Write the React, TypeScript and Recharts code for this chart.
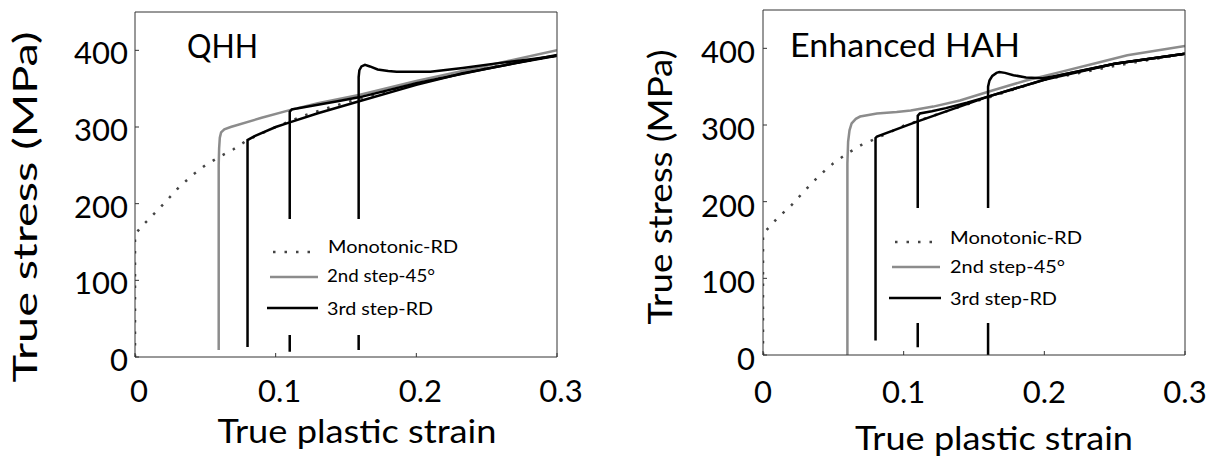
import { LineChart, Line, XAxis, YAxis, Legend } from "recharts";

const FONT = "Lato, 'Open Sans', sans-serif";

const xTicks = [0, 0.1, 0.2, 0.3];
const yTicks = [0, 100, 200, 300, 400];
const legendLabels = ["Monotonic-RD", "2nd step-45°", "3rd step-RD"];

// ---- QHH panel ----
const qhhMonoStrain = [0, 0, 0.005, 0.01, 0.02, 0.03, 0.04, 0.05, 0.06, 0.07, 0.08, 0.1, 0.12, 0.15, 0.2, 0.25, 0.3];
const qhhMonoStress = [0, 160, 171, 180, 199, 219, 236, 250, 261, 271, 283, 300, 315, 332, 357, 377, 393];

const qhhSecondStrain = [0.0595, 0.0595, 0.0598, 0.0603, 0.0612, 0.0635, 0.068, 0.09, 0.11, 0.13, 0.16, 0.2, 0.25, 0.3];
const qhhSecondStress = [9, 250, 272, 286, 293, 297, 300, 312, 322, 331, 342, 360, 380, 400];

const qhhThird1Strain = [0.08, 0.08, 0.085, 0.1, 0.11, 0.13, 0.16, 0.2, 0.233, 0.27, 0.3];
const qhhThird1Stress = [13, 283, 288, 300, 306, 318, 334, 355, 370, 383, 393];

const qhhThird2Strain = [0.11, 0.11, 0.1115, 0.115, 0.13, 0.145, 0.16, 0.2, 0.25, 0.3];
const qhhThird2Stress = [7, 320, 323, 324, 329, 334, 339, 357, 376, 394];

const qhhThird3Strain = [0.159, 0.159, 0.1595, 0.161, 0.1635, 0.167, 0.1725, 0.18, 0.186, 0.2, 0.21, 0.233, 0.257, 0.28, 0.3];
const qhhThird3Stress = [9, 365, 374, 379, 381, 379, 375, 373, 372, 372, 372, 377, 383, 388, 393];

// ---- Enhanced HAH panel ----
const hahMonoStrain = [0, 0, 0.01, 0.02, 0.03, 0.04, 0.05, 0.06, 0.07, 0.08, 0.1, 0.15, 0.2, 0.25, 0.3];
const hahMonoStress = [0, 158, 178, 195, 215, 234, 250, 263, 274, 282, 299, 330, 359, 377, 393];

const hahSecondStrain = [0.06, 0.06, 0.0605, 0.0615, 0.063, 0.066, 0.069, 0.075, 0.081, 0.095, 0.105, 0.121, 0.14, 0.163, 0.187, 0.211, 0.235, 0.259, 0.3];
const hahSecondStress = [0, 250, 278, 293, 302, 308, 311, 313, 315, 317, 319, 324, 332, 345, 358, 369, 380, 391, 403];

const hahThird1Strain = [0.08, 0.08, 0.081, 0.109, 0.16, 0.211, 0.25, 0.3];
const hahThird1Stress = [19, 283, 285, 304, 337, 365, 380, 393];

const hahThird2Strain = [0.11, 0.11, 0.1115, 0.12, 0.13, 0.145, 0.16, 0.2, 0.25, 0.3];
const hahThird2Stress = [10, 312, 315, 318, 322, 329, 337, 359, 380, 393];

const hahThird3Strain = [0.16, 0.16, 0.161, 0.163, 0.166, 0.168, 0.172, 0.178, 0.187, 0.199, 0.211, 0.25, 0.3];
const hahThird3Stress = [0, 350, 358, 364, 368, 369, 368, 365, 362, 361, 365, 380, 393];

const toPoints = (xs: number[], ys: number[]) => xs.map((x, i) => ({ x, y: ys[i] }));

type Row = { x1: number; x2: number; lineY: number; textX: number; textY: number; textLen: number };

type PanelCfg = {
  left: number;
  top: number;
  right: number;
  yAxisWidth: number;
  xAxisHeight: number;
  yTickDx: number;
  yTickDy: number;
  xTickDx: number;
  xTickDy: number;
  title: string;
  titleX: number;
  titleY: number;
  titleLen: number;
  yLabelX: number;
  yLabelY: number;
  yLabelLen: number;
  xLabelX: number;
  xLabelY: number;
  xLabelLen: number;
  legendBox: { left: number; top: number; width: number; height: number };
  rows: Row[];
};

// top/right margins are one pixel short: the mirror axes take 1px each
const qhhCfg: PanelCfg = {
  left: 0,
  top: 11,
  right: 50,
  yAxisWidth: 135,
  xAxisHeight: 102,
  yTickDx: -11,
  yTickDy: 14,
  xTickDx: 4,
  xTickDy: 49,
  title: "QHH",
  titleX: 187,
  titleY: 58,
  titleLen: 71,
  yLabelX: 37,
  yLabelY: 207,
  yLabelLen: 351,
  xLabelX: 357,
  xLabelY: 443,
  xLabelLen: 279,
  legendBox: { left: 258, top: 219, width: 212, height: 116 },
  rows: [
    { x1: 15, x2: 59, lineY: 33, textX: 70, textY: 34, textLen: 130 },
    { x1: 12, x2: 60, lineY: 58, textX: 69, textY: 63, textLen: 108 },
    { x1: 9, x2: 60, lineY: 89, textX: 69, textY: 96, textLen: 106 },
  ],
};

const hahCfg: PanelCfg = {
  left: 608,
  top: 9,
  right: 30,
  yAxisWidth: 155,
  xAxisHeight: 104,
  yTickDx: -12,
  yTickDy: 15,
  xTickDx: 0,
  xTickDy: 52,
  title: "Enhanced HAH",
  titleX: 182,
  titleY: 57,
  titleLen: 230,
  yLabelX: 64,
  yLabelY: 187,
  yLabelLen: 275,
  xLabelX: 386,
  xLabelY: 450,
  xLabelLen: 278,
  legendBox: { left: 274, top: 208, width: 218, height: 115 },
  rows: [
    { x1: 13, x2: 58, lineY: 34, textX: 68, textY: 36, textLen: 132 },
    { x1: 10, x2: 58, lineY: 59, textX: 68, textY: 65, textLen: 115 },
    { x1: 7, x2: 59, lineY: 90, textX: 68, textY: 97, textLen: 107 },
  ],
};

const monoStyle = { stroke: "#444", width: 2.5, dash: "2.5 9" };
const secondStyle = { stroke: "#8c8c8c", width: 2.5, dash: undefined };
const thirdStyle = { stroke: "#000", width: 2.5, dash: undefined };
const legendStyles = [monoStyle, secondStyle, thirdStyle];

type Series = {
  mono: { x: number; y: number }[];
  second: { x: number; y: number }[];
  third: { x: number; y: number }[][];
};

function Panel({ cfg, series }: { cfg: PanelCfg; series: Series }) {
  const renderYTick = (p: any) => (
    <text x={p.x + cfg.yTickDx} y={p.y + cfg.yTickDy} textAnchor="end" fontSize={31} fontFamily={FONT} fill="#000">
      {p.payload.value}
    </text>
  );
  const renderXTick = (p: any) => (
    <text x={p.x + cfg.xTickDx} y={p.y + cfg.xTickDy} textAnchor="middle" fontSize={31} fontFamily={FONT} fill="#000">
      {p.payload.value}
    </text>
  );
  const lb = cfg.legendBox;
  const legendContent = () => (
    <svg width={lb.width} height={lb.height} style={{ display: "block" }}>
      {cfg.rows.map((r, i) => (
        <g key={legendLabels[i]}>
          <line
            x1={r.x1}
            x2={r.x2}
            y1={r.lineY}
            y2={r.lineY}
            stroke={legendStyles[i].stroke}
            strokeWidth={legendStyles[i].width}
            strokeDasharray={legendStyles[i].dash}
          />
          <text
            x={r.textX}
            y={r.textY}
            fontSize={18}
            fontFamily={FONT}
            fill="#000"
            textLength={r.textLen}
            lengthAdjust="spacingAndGlyphs"
          >
            {legendLabels[i]}
          </text>
        </g>
      ))}
    </svg>
  );

  return (
    <div style={{ position: "absolute", left: cfg.left, top: 0, width: 608, height: 459 }}>
      <LineChart width={608} height={459} margin={{ top: cfg.top, right: cfg.right, bottom: 0, left: 0 }}>
        <XAxis
          dataKey="x"
          type="number"
          domain={[0, 0.3]}
          ticks={xTicks}
          interval={0}
          allowDataOverflow
          height={cfg.xAxisHeight}
          tickSize={-4}
          tickMargin={0}
          tick={renderXTick}
          stroke="#333"
        />
        <XAxis
          xAxisId="top"
          orientation="top"
          type="number"
          domain={[0, 0.3]}
          ticks={xTicks}
          interval={0}
          height={1}
          tickSize={-4}
          tick={false}
          stroke="#333"
        />
        <YAxis
          type="number"
          domain={[0, 450]}
          ticks={yTicks}
          interval={0}
          allowDataOverflow
          width={cfg.yAxisWidth}
          tickSize={-4}
          tickMargin={0}
          tick={renderYTick}
          stroke="#333"
        />
        <YAxis
          yAxisId="right"
          orientation="right"
          type="number"
          domain={[0, 450]}
          ticks={yTicks}
          interval={0}
          width={1}
          tickSize={-4}
          tick={false}
          stroke="#333"
        />
        <Line
          data={series.mono}
          dataKey="y"
          name={legendLabels[0]}
          type="linear"
          stroke={monoStyle.stroke}
          strokeWidth={monoStyle.width}
          strokeDasharray={monoStyle.dash}
          dot={false}
          activeDot={false}
          isAnimationActive={false}
        />
        <Line
          data={series.second}
          dataKey="y"
          name={legendLabels[1]}
          type="linear"
          stroke={secondStyle.stroke}
          strokeWidth={secondStyle.width}
          dot={false}
          activeDot={false}
          isAnimationActive={false}
        />
        {series.third.map((d, i) => (
          <Line
            key={i}
            data={d}
            dataKey="y"
            name={i === 0 ? legendLabels[2] : legendLabels[2] + i}
            legendType={i === 0 ? "line" : "none"}
            type="linear"
            stroke={thirdStyle.stroke}
            strokeWidth={thirdStyle.width}
            dot={false}
            activeDot={false}
            isAnimationActive={false}
          />
        ))}
        <Legend
          layout="vertical"
          align="center"
          verticalAlign="middle"
          content={legendContent}
          wrapperStyle={{
            left: lb.left,
            top: lb.top,
            width: lb.width,
            height: lb.height,
            backgroundColor: "#fff",
            margin: 0,
            padding: 0,
          }}
        />
        <text
          x={cfg.titleX}
          y={cfg.titleY}
          fontSize={32}
          fontFamily={FONT}
          fill="#000"
          textLength={cfg.titleLen}
          lengthAdjust="spacingAndGlyphs"
        >
          {cfg.title}
        </text>
        <text
          x={cfg.xLabelX}
          y={cfg.xLabelY}
          fontSize={32}
          fontFamily={FONT}
          fill="#000"
          textAnchor="middle"
          textLength={cfg.xLabelLen}
          lengthAdjust="spacingAndGlyphs"
        >
          True plastic strain
        </text>
        <text
          x={cfg.yLabelX}
          y={cfg.yLabelY}
          transform={`rotate(-90 ${cfg.yLabelX} ${cfg.yLabelY})`}
          fontSize={32}
          fontFamily={FONT}
          fill="#000"
          textAnchor="middle"
          textLength={cfg.yLabelLen}
          lengthAdjust="spacingAndGlyphs"
        >
          True stress (MPa)
        </text>
      </LineChart>
    </div>
  );
}

const qhhSeries: Series = {
  mono: toPoints(qhhMonoStrain, qhhMonoStress),
  second: toPoints(qhhSecondStrain, qhhSecondStress),
  third: [
    toPoints(qhhThird1Strain, qhhThird1Stress),
    toPoints(qhhThird2Strain, qhhThird2Stress),
    toPoints(qhhThird3Strain, qhhThird3Stress),
  ],
};

const hahSeries: Series = {
  mono: toPoints(hahMonoStrain, hahMonoStress),
  second: toPoints(hahSecondStrain, hahSecondStress),
  third: [
    toPoints(hahThird1Strain, hahThird1Stress),
    toPoints(hahThird2Strain, hahThird2Stress),
    toPoints(hahThird3Strain, hahThird3Stress),
  ],
};

export default function App() {
  return (
    <div style={{ position: "absolute", left: 0, top: 0, width: 1216, height: 459, background: "#fff", fontFamily: FONT }}>
      <Panel cfg={qhhCfg} series={qhhSeries} />
      <Panel cfg={hahCfg} series={hahSeries} />
    </div>
  );
}
